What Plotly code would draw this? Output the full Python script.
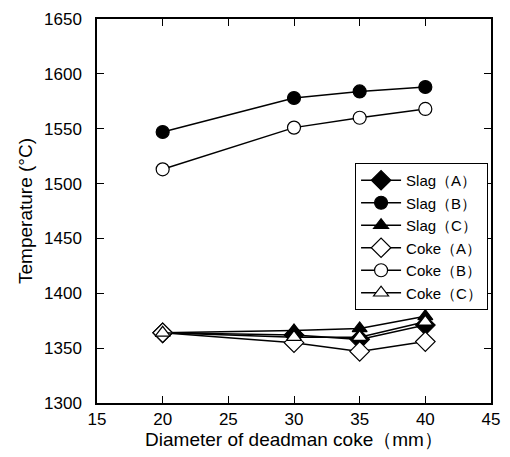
import plotly.graph_objects as go

diameter = [20, 30, 35, 40]
slag_a = [1364, 1362, 1358, 1371]
slag_b = [1547, 1578, 1584, 1588]
slag_c = [1364, 1366, 1368, 1379]
coke_a = [1364, 1355, 1347, 1356]
coke_b = [1513, 1551, 1560, 1568]
coke_c = [1364, 1360, 1360, 1374]

series = [
    ("Slag（A）", slag_a, "diamond", 15),
    ("Slag（B）", slag_b, "circle", 13),
    ("Slag（C）", slag_c, "triangle-up", 13),
    ("Coke（A）", coke_a, "diamond-open", 15),
    ("Coke（B）", coke_b, "circle-open", 13),
    ("Coke（C）", coke_c, "triangle-up-open", 13),
]

fig = go.Figure()
for name, ys, sym, sz in series:
    filled = not sym.endswith("open")
    fig.add_trace(go.Scatter(
        x=diameter, y=ys, name=name, mode="lines+markers",
        line=dict(color="black", width=1.5),
        marker=dict(symbol=sym.replace("-open", ""), size=sz,
                    color="black" if filled else "white",
                    line=dict(color="black", width=1.2)),
    ))

font = "Liberation Sans, Arial, sans-serif"
axis_common = dict(showline=True, linecolor="black", linewidth=1.5, mirror="ticks",
                   ticks="inside", ticklen=7, tickcolor="black", tickwidth=1,
                   showgrid=False, zeroline=False,
                   tickfont=dict(family=font, size=17, color="black"))
fig.update_layout(
    width=510, height=457,
    margin=dict(l=97, r=10, t=17, b=54),
    paper_bgcolor="white", plot_bgcolor="white",
    showlegend=True,
    legend=dict(x=0.655, y=0.625, xanchor="left", yanchor="top",
                bordercolor="black", borderwidth=1, bgcolor="white",
                font=dict(family=font, size=15, color="black"),
                tracegroupgap=0, itemwidth=40),
    xaxis=dict(range=[15, 45], dtick=5,
               title=dict(text="Diameter of deadman coke（mm）", standoff=4,
                          font=dict(family=font, size=19, color="black")),
               **axis_common),
    yaxis=dict(range=[1300, 1650], dtick=50, ticklabelstandoff=10,
               title=dict(text="Temperature (°C)", standoff=6,
                          font=dict(family=font, size=19, color="black")),
               **axis_common),
)
fig.write_html("out.html")
